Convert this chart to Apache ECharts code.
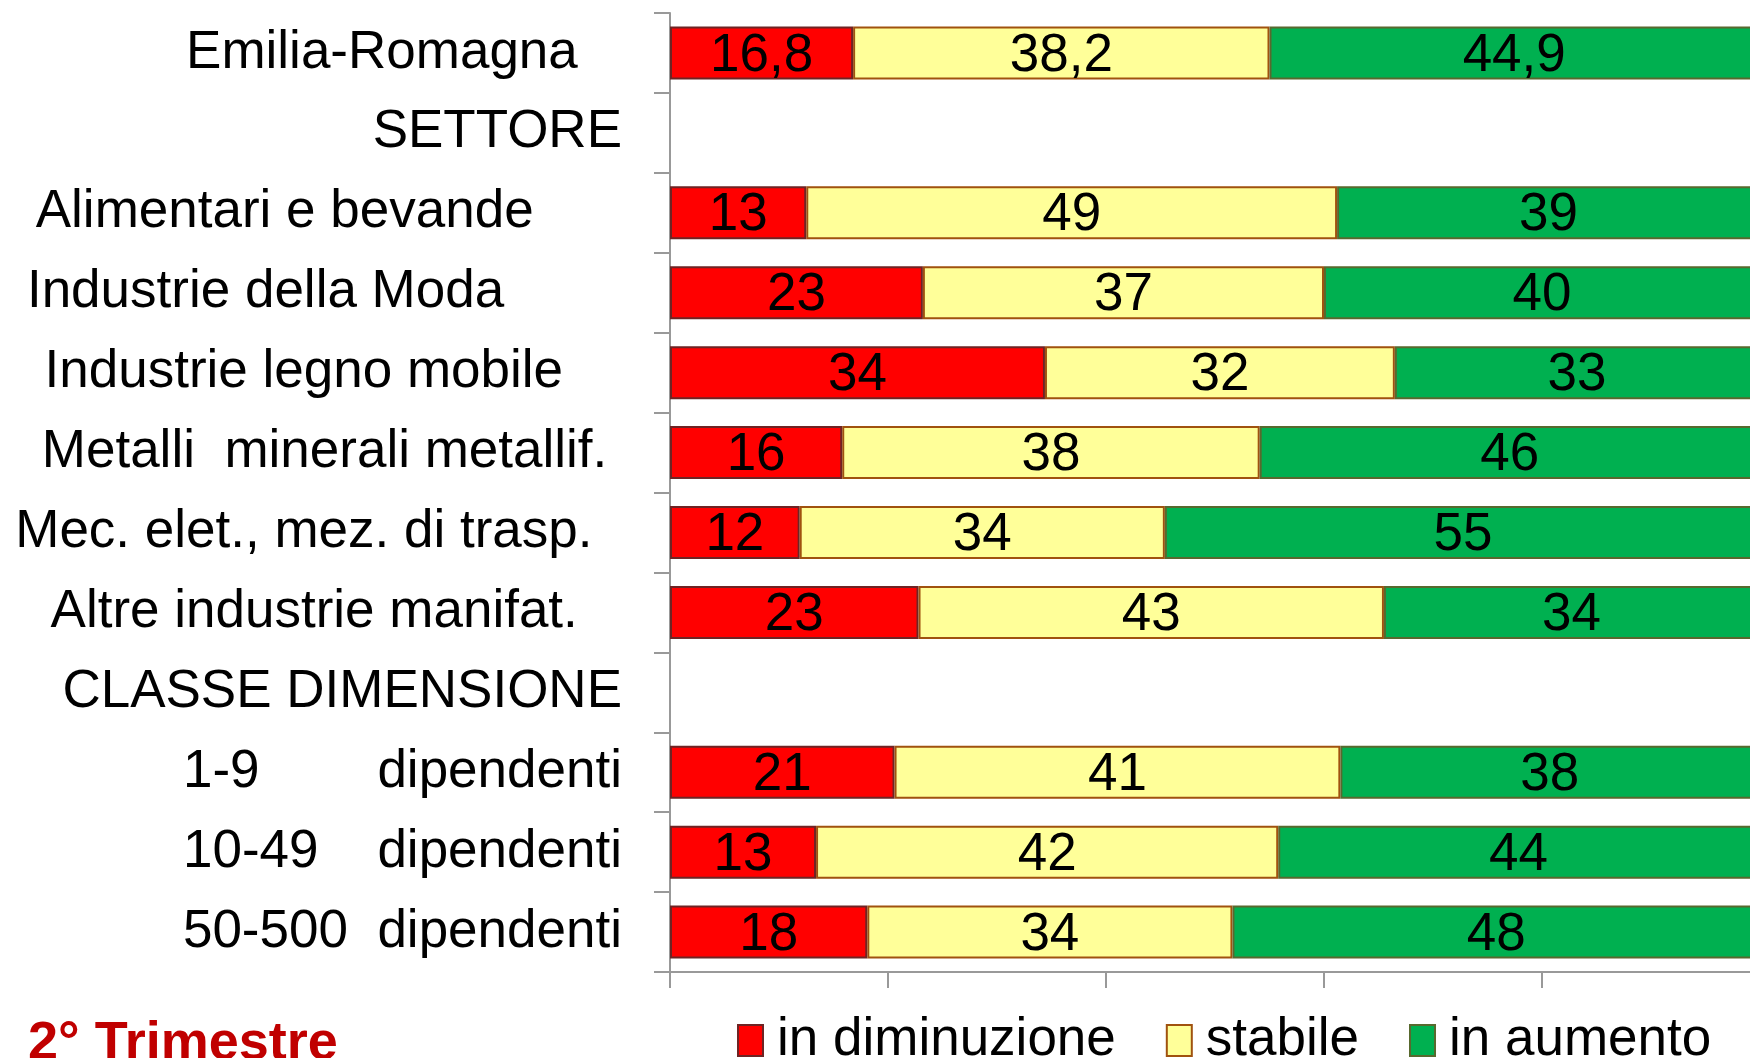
<!DOCTYPE html>
<html><head><meta charset="utf-8">
<script src="https://cdn.jsdelivr.net/npm/echarts@6/dist/echarts.min.js"></script>
<style>html,body{margin:0;padding:0;background:#fff}#c{width:1750px;height:1058px}</style>
</head><body><div id="c"></div>
<script>
const categories = [
  'Emilia-Romagna   ',
  'SETTORE',
  'Alimentari e bevande      ',
  'Industrie della Moda        ',
  'Industrie legno mobile    ',
  'Metalli  minerali metallif. ',
  'Mec. elet., mez. di trasp.  ',
  'Altre industrie manifat.   ',
  'CLASSE DIMENSIONE',
  '1-9        dipendenti',
  '10-49    dipendenti',
  '50-500  dipendenti'
];
const seriesNames = ['in diminuzione', 'stabile', 'in aumento'];
const inDiminuzione = [16.8, null, 12.5, 23.2, 34.4, 15.8, 11.9, 22.8, null, 20.6, 13.4, 18.1];
const stabile       = [38.2, null, 48.7, 36.8, 32.1, 38.3, 33.5, 42.7, null, 40.9, 42.4, 33.5];
const inAumento     = [44.9, null, 38.8, 40.0, 33.4, 45.9, 54.7, 34.4, null, 38.4, 44.1, 48.4];
const labelDecimals = [1, 0, 0, 0, 0, 0, 0, 0, 0, 0, 0, 0];
const titleText = '2° Trimestre';

const FONT = '"Liberation Sans", Arial, sans-serif';
const fills = ['#FF0000', '#FFFF99', '#00B050'];
const borders = ['#6E2424', '#A0520F', '#58692E'];
const dataSets = [inDiminuzione, stabile, inAumento];

const chart = echarts.init(document.getElementById('c'), null, {renderer: 'canvas'});
chart.setOption({
  backgroundColor: '#ffffff',
  animation: false,
  title: {
    text: titleText, left: 23, top: 1012,
    textStyle: {fontFamily: FONT, fontSize: 54, fontWeight: 'bold', color: '#C00000', lineHeight: 54}
  },
  legend: {
    data: seriesNames, left: 732, top: 1009, icon: 'rect',
    itemWidth: 25, itemHeight: 31, itemGap: 50,
    textStyle: {fontFamily: FONT, fontSize: 53, color: '#000', lineHeight: 53, padding: [0, 0, 0, 9]}
  },
  grid: {left: 670, width: 1090, top: 13, bottom: 86, containLabel: false, outerBoundsMode: 'none'},
  xAxis: {
    type: 'value', min: 0, max: 100, interval: 20,
    axisLine: {show: true, lineStyle: {color: '#999999', width: 2}},
    axisTick: {show: true, length: 16, lineStyle: {color: '#999999', width: 2}},
    axisLabel: {show: false},
    splitLine: {show: false}
  },
  yAxis: {
    type: 'category', data: categories, inverse: true,
    axisLine: {show: true, lineStyle: {color: '#999999', width: 2}},
    axisTick: {show: true, length: 16, lineStyle: {color: '#999999', width: 2}},
    axisLabel: {fontFamily: FONT, fontSize: 53, color: '#000', margin: 48}
  },
  series: dataSets.map((d, i) => ({
    name: seriesNames[i], type: 'bar', stack: 'tot', barWidth: 53,
    data: d,
    itemStyle: {color: fills[i], borderColor: borders[i], borderWidth: 2},
    label: {
      show: true, position: 'inside', fontFamily: FONT, fontSize: 53, color: '#000', offset: [0, 3],
      formatter: p => p.value == null ? '' : Number(p.value).toFixed(labelDecimals[p.dataIndex]).replace('.', ',')
    }
  }))
});
</script>
</body></html>
